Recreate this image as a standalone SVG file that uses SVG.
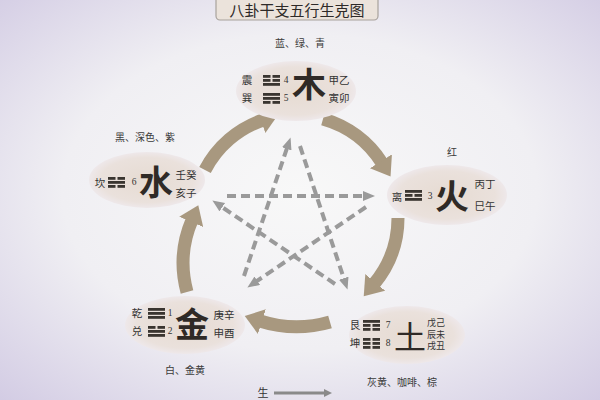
<svg xmlns="http://www.w3.org/2000/svg" width="600" height="400" viewBox="0 0 600 400">
<defs>
<radialGradient id="bg" cx="50%" cy="48%" r="72%">
<stop offset="0" stop-color="#f8f8f8"/>
<stop offset="0.55" stop-color="#f0eff3"/>
<stop offset="1" stop-color="#d3cce4"/>
</radialGradient>
<radialGradient id="nodefill" cx="50%" cy="50%" r="50%">
<stop offset="0" stop-color="#e6dbd2"/>
<stop offset="0.8" stop-color="#eae1dc"/>
<stop offset="1" stop-color="#eee8ea"/>
</radialGradient>
<marker id="dh" markerUnits="userSpaceOnUse" markerWidth="14" markerHeight="12" refX="4" refY="5" orient="auto">
<path d="M0,0 L12,5 L0,10 z" fill="#9a9a9a"/>
</marker>
<marker id="bh" markerUnits="userSpaceOnUse" markerWidth="20" markerHeight="28" refX="2" refY="13" orient="auto">
<path d="M0,0 L18,13 L0,26 z" fill="#a8987f"/>
</marker>
<marker id="lh" markerUnits="userSpaceOnUse" markerWidth="10" markerHeight="10" refX="1" refY="4" orient="auto">
<path d="M0,0 L8,4 L0,8 z" fill="#8a8a8a"/>
</marker>
<g id="S"><rect x="0" y="0" width="17" height="2.8"/></g>
<g id="B"><rect x="0" y="0" width="7.5" height="2.8"/><rect x="9.5" y="0" width="7.5" height="2.8"/></g>
<g id="qian"><use href="#S"/><use href="#S" y="4"/><use href="#S" y="8"/></g>
<g id="dui"><use href="#B"/><use href="#S" y="4"/><use href="#S" y="8"/></g>
<g id="li"><use href="#S"/><use href="#B" y="4"/><use href="#S" y="8"/></g>
<g id="zhen"><use href="#B"/><use href="#B" y="4"/><use href="#S" y="8"/></g>
<g id="xun"><use href="#S"/><use href="#S" y="4"/><use href="#B" y="8"/></g>
<g id="kan"><use href="#B"/><use href="#S" y="4"/><use href="#B" y="8"/></g>
<g id="gen"><use href="#S"/><use href="#B" y="4"/><use href="#B" y="8"/></g>
<g id="kun"><use href="#B"/><use href="#B" y="4"/><use href="#B" y="8"/></g>
</defs>
<style>
text{font-family:"Noto Sans CJK SC","Liberation Serif",serif;fill:#333}
.sm{font-size:10.5px;text-anchor:middle}
.num{font-size:9.5px;text-anchor:middle;font-family:"Liberation Serif",serif}
.big{font-size:34px;font-weight:700;text-anchor:middle;fill:#2f2a26}
.lab{font-size:10px;text-anchor:middle;fill:#3a3a3a}
.tri{fill:#3a3530}
.node{fill:url(#nodefill)}
.arc{fill:none;stroke:#a8987f;stroke-width:13;marker-end:url(#bh)}
.dash{fill:none;stroke:#9a9a9a;stroke-width:4;stroke-dasharray:9 5;marker-end:url(#dh)}
</style>
<rect x="0" y="0" width="600" height="400" fill="url(#bg)"/>

<g id="title">
<rect x="216" y="-8" width="162" height="28" rx="4" fill="#ebe3db" stroke="#a8a29c" stroke-width="1.2"/>
<text x="297" y="16" style="font-size:15px;text-anchor:middle;fill:#2e2a28">八卦干支五行生克图</text>
</g>

<g id="connectors">
<path class="arc" d="M205,170 A103,103 0 0 1 263,120"/>
<path class="arc" d="M323,119 A103,103 0 0 1 382,163"/>
<path class="arc" d="M398,218 A103,103 0 0 1 374,284"/>
<path class="arc" d="M330,322 A120,120 0 0 1 260,321"/>
<path class="arc" d="M187,292 A110,110 0 0 1 192,220"/>
<path class="dash" d="M227,196 L367,196"/>
<path class="dash" d="M366,207 L254,283"/>
<path class="dash" d="M244,276 L288,145"/>
<path class="dash" d="M300,146 L345,282"/>
<path class="dash" d="M335,284 L219,205"/>
</g>

<g id="wood">
<ellipse class="node" cx="296" cy="91" rx="60" ry="30"/>
<text class="lab" x="300" y="47">蓝、绿、青</text>
<text class="sm" x="247" y="84">震</text>
<use class="tri" href="#zhen" x="263" y="75"/>
<text class="num" x="286" y="83">4</text>
<text class="sm" x="247" y="102">巽</text>
<use class="tri" href="#xun" x="263" y="93"/>
<text class="num" x="286" y="101">5</text>
<text class="big" x="309" y="97">木</text>
<text class="sm" x="339" y="84">甲乙</text>
<text class="sm" x="339" y="102">寅卯</text>
</g>

<g id="fire">
<ellipse class="node" cx="447" cy="195" rx="60" ry="30"/>
<text class="lab" x="452" y="156">红</text>
<text class="sm" x="397" y="201">离</text>
<use class="tri" href="#li" x="405" y="190"/>
<text class="num" x="430" y="199">3</text>
<text class="big" x="452" y="209">火</text>
<text class="sm" x="485" y="188">丙丁</text>
<text class="sm" x="485" y="210">巳午</text>
</g>

<g id="earth">
<ellipse class="node" cx="407" cy="335" rx="58" ry="29"/>
<text class="lab" x="402" y="386">灰黄、咖啡、棕</text>
<text class="sm" x="355" y="329">艮</text>
<use class="tri" href="#gen" x="363" y="320"/>
<text class="num" x="388" y="328">7</text>
<text class="sm" x="355" y="347">坤</text>
<use class="tri" href="#kun" x="363" y="338"/>
<text class="num" x="388" y="346">8</text>
<text class="big" x="410" y="349" style="font-weight:400;font-size:32px">土</text>
<text class="sm" x="436" y="326" style="font-size:9px">戊己</text>
<text class="sm" x="436" y="337.5" style="font-size:9px">辰未</text>
<text class="sm" x="436" y="349" style="font-size:9px">戌丑</text>
</g>

<g id="metal">
<ellipse class="node" cx="185" cy="325" rx="60" ry="29"/>
<text class="lab" x="185" y="374">白、金黄</text>
<text class="sm" x="137" y="317">乾</text>
<use class="tri" href="#qian" x="148" y="308"/>
<text class="num" x="170" y="316">1</text>
<text class="sm" x="137" y="335">兑</text>
<use class="tri" href="#dui" x="148" y="326"/>
<text class="num" x="170" y="334">2</text>
<text class="big" x="192" y="337">金</text>
<text class="sm" x="224" y="319">庚辛</text>
<text class="sm" x="224" y="337">申酉</text>
</g>

<g id="water">
<ellipse class="node" cx="147" cy="180" rx="58" ry="28"/>
<text class="lab" x="145" y="141">黑、深色、紫</text>
<text class="sm" x="100" y="187">坎</text>
<use class="tri" href="#kan" x="108" y="177"/>
<text class="num" x="134" y="185">6</text>
<text class="big" x="156" y="195">水</text>
<text class="sm" x="186" y="179">壬癸</text>
<text class="sm" x="186" y="197">亥子</text>
</g>

<g id="legend">
<text x="263" y="397" style="font-size:11px;text-anchor:middle">生</text>
<path d="M274,393 L325,393" stroke="#8a8a8a" stroke-width="3" fill="none" marker-end="url(#lh)"/>
</g>
</svg>
